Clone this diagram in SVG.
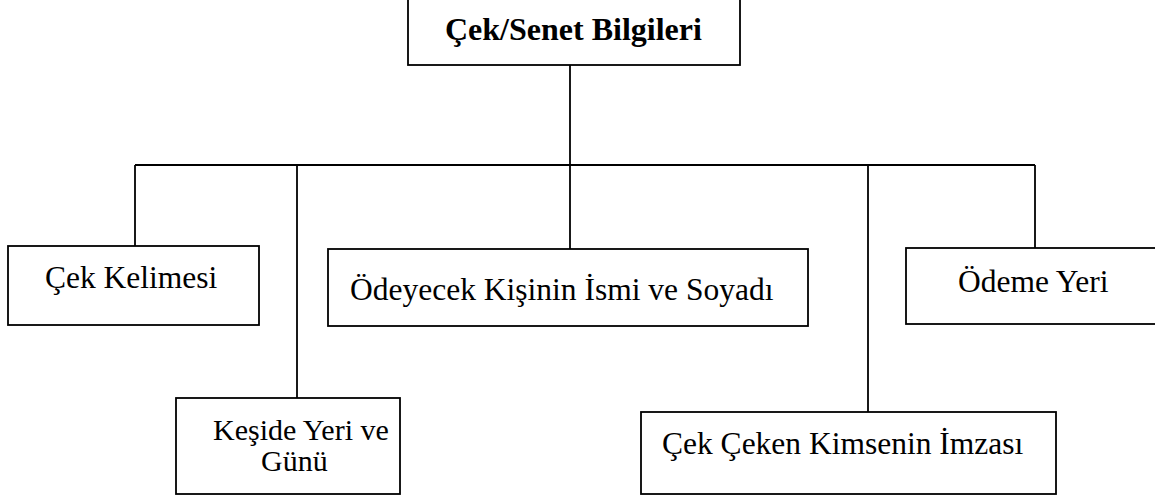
<svg xmlns="http://www.w3.org/2000/svg" width="1155" height="499" viewBox="0 0 1155 499">
  <style>
    .box { fill: #ffffff; stroke: #000000; stroke-width: 1.8; }
    .wire { fill: none; stroke: #000000; stroke-width: 1.8; }
    .label { font-family: "Liberation Serif", "Times New Roman", serif; font-size: 31.5px; fill: #000000; }
    .small { font-size: 30px; }
    .title { font-family: "Liberation Serif", "Times New Roman", serif; font-size: 32px; font-weight: bold; fill: #000000; }
  </style>
  <rect width="1155" height="499" fill="#ffffff"/>

  <!-- tree connectors -->
  <g id="connectors">
    <path class="wire" d="M570,65 V249"/>
    <path class="wire" d="M135,165 H1035"/>
    <path class="wire" d="M135,165 V246"/>
    <path class="wire" d="M297,165 V398"/>
    <path class="wire" d="M868,165 V412"/>
    <path class="wire" d="M1035,165 V248"/>
  </g>

  <g id="root">
    <rect class="box" x="408" y="-3" width="332" height="68"/>
    <text class="title" x="445" y="40">Çek/Senet Bilgileri</text>
  </g>

  <g id="cek-kelimesi">
    <rect class="box" x="8" y="246" width="251" height="79"/>
    <text class="label" x="45" y="288">Çek Kelimesi</text>
  </g>

  <g id="odeyecek">
    <rect class="box" x="328" y="249" width="480" height="77"/>
    <text class="label" x="350" y="300">Ödeyecek Kişinin İsmi ve Soyadı</text>
  </g>

  <g id="odeme-yeri">
    <rect class="box" x="906" y="248" width="260" height="76"/>
    <text class="label" x="958" y="292">Ödeme Yeri</text>
  </g>

  <g id="keside">
    <rect class="box" x="176" y="398" width="224" height="96"/>
    <text class="label small" x="213" y="440">Keşide Yeri ve</text>
    <text class="label small" x="261" y="471">Günü</text>
  </g>

  <g id="imza">
    <rect class="box" x="641" y="412" width="415" height="82"/>
    <text class="label" x="662" y="454">Çek Çeken Kimsenin İmzası</text>
  </g>
</svg>
